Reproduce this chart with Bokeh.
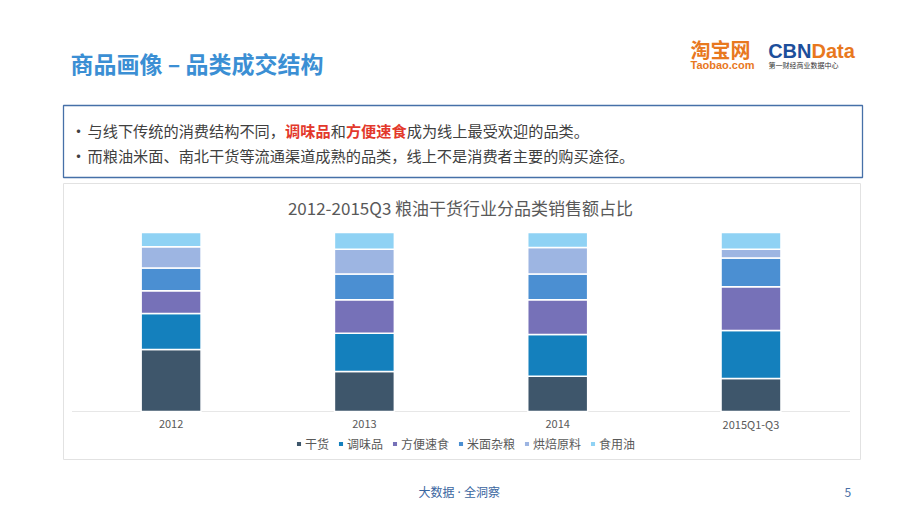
from bokeh.plotting import figure
from bokeh.models import Range1d, ColumnDataSource, Legend, LegendItem
from bokeh.core.properties import value
from bokeh.embed import file_html
from bokeh.resources import INLINE

# ---------------- data ----------------
categories = ["2012", "2013", "2014", "2015Q1-Q3"]
series = ["干货", "调味品", "方便速食", "米面杂粮", "烘焙原料", "食用油"]
dry_goods = [34.6, 22.3, 19.7, 18.4]
seasoning = [20.2, 21.4, 23.3, 26.8]
instant_food = [12.7, 18.8, 19.5, 24.5]
rice_flour = [12.7, 14.3, 14.3, 16.0]
baking = [11.9, 13.9, 14.8, 5.0]
cooking_oil = [7.9, 9.3, 8.4, 9.3]
colors = ["#3e566b", "#1480bd", "#7671b8", "#4b8fd2", "#9db5e2", "#8fd2f4"]

page_title = "商品画像 – 品类成交结构"
chart_title = "2012-2015Q3 粮油干货行业分品类销售额占比"
bullet1 = [("与线下传统的消费结构不同，", False), ("调味品", True), ("和", False),
           ("方便速食", True), ("成为线上最受欢迎的品类。", False)]
bullet2 = "而粮油米面、南北干货等流通渠道成熟的品类，线上不是消费者主要的购买途径。"
footer = "大数据 · 全洞察"
page_no = "5"

FONT = "Noto Sans CJK SC"
MIXED_FONT = "'Noto Sans', 'Noto Sans CJK SC'"

# ---------------- layout (page pixel coordinates) ----------------
W, H = 904, 502
X0, Y0 = 0, 0
BASE_Y, TOP_Y = 411, 232
FIRST_X, BAR_SPACING = 170.6, 193.3
ppu = (BASE_Y - TOP_Y) / 100.0
pct_start = -((Y0 + H) - BASE_Y) / ppu
pct_end = 100 + (TOP_Y - Y0) / ppu
idx_start = (X0 - FIRST_X) / BAR_SPACING
idx_end = idx_start + W / BAR_SPACING

p = figure(width=W, height=H, output_backend="svg", toolbar_location=None,
           x_range=Range1d(X0, X0 + W), y_range=Range1d(Y0 + H, Y0),
           x_axis_location=None, y_axis_location=None, min_border=0,
           outline_line_color=None, background_fill_color="white")
p.xgrid.visible = False
p.ygrid.visible = False
p.extra_x_ranges = {"idx": Range1d(idx_start, idx_end)}
p.extra_y_ranges = {"pct": Range1d(pct_start, pct_end)}

# header title
p.text(x=[70], y=[62], text=[page_title], text_font=value(FONT), text_font_size="23px",
       text_font_style="bold", text_color="#3b8fd4", text_baseline="middle")

# logos
p.text(x=[690], y=[49], text=["淘宝网"], text_font=value(FONT), text_font_size="20px",
       text_font_style="bold", text_color="#e8781e", text_baseline="middle")
p.text(x=[690], y=[64.5], text=["Taobao.com"], text_font=value("Liberation Sans"),
       text_font_size="11px", text_font_style="bold", text_color="#e8781e", text_baseline="middle")
p.text(x=[811], y=[50], text=["CBN"], text_font=value("Liberation Sans"), text_font_size="20px",
       text_font_style="bold", text_color="#1d4f9b", text_baseline="middle", text_align="right")
p.text(x=[811], y=[50], text=["Data"], text_font=value("Liberation Sans"), text_font_size="20px",
       text_font_style="bold", text_color="#e8781e", text_baseline="middle", text_align="left")
p.text(x=[768], y=[64], text=["第一财经商业数据中心"], text_font=value(FONT), text_font_size="7px",
       text_color="#333333", text_baseline="middle")

# bullet box
p.quad(left=[63], right=[862], top=[105], bottom=[177], fill_color=None,
       line_color="#4670a8", line_width=1.3)
BFS = 15.2
p.text(x=[70, 70], y=[129.5, 154.5], text=["•", "•"], text_font=value(FONT),
       text_font_size="16px", text_color="#404040", text_baseline="middle")
xs, ys, ts, cs, st = [], [], [], [], []
cx = 87
for seg, hi in bullet1:
    xs.append(cx); ys.append(129.5); ts.append(seg)
    cs.append("#e3382b" if hi else "#404040"); st.append("bold" if hi else "normal")
    cx += len(seg) * BFS
src_b = ColumnDataSource(dict(x=xs, y=ys, t=ts, c=cs, s=st))
p.text(x="x", y="y", text="t", text_color="c", text_font_style="s", source=src_b,
       text_font=value(FONT), text_font_size=f"{BFS}px", text_baseline="middle")
p.text(x=[87], y=[154.5], text=[bullet2], text_font=value(FONT), text_font_size=f"{BFS}px",
       text_color="#404040", text_baseline="middle")

# chart box
p.quad(left=[63], right=[860], top=[183], bottom=[459], fill_color=None,
       line_color="#e2e2e2", line_width=1)
p.text(x=[460], y=[207], text=[chart_title], text_font=value(FONT), text_font_size="17px",
       text_color="#595959", text_baseline="middle", text_align="center")

# baseline
p.segment(x0=[72], x1=[850], y0=[BASE_Y], y1=[BASE_Y], line_color="#cfcfcf",
          line_width=1, line_dash="1 1")

# stacked bars
idx = list(range(len(categories)))
source = ColumnDataSource(dict(idx=idx, cat=categories, s0=dry_goods, s1=seasoning,
                               s2=instant_food, s3=rice_flour, s4=baking, s5=cooking_oil))
renderers = p.vbar_stack(["s0", "s1", "s2", "s3", "s4", "s5"], x="idx", width=0.31,
                         color=colors, line_color="white", line_width=1.5, source=source,
                         x_range_name="idx", y_range_name="pct")

# category labels
p.text(x="idx", y=423, text="cat", x_range_name="idx", source=source,
       text_font=value(FONT), text_font_size="11px", text_color="#595959",
       text_baseline="middle", text_align="center")

legend = Legend(items=[LegendItem(label=s, renderers=[r]) for s, r in zip(series, renderers)],
                orientation="horizontal", location=(295 - X0, (Y0 + H) - 445 - 7),
                border_line_color=None, background_fill_alpha=0, padding=0, margin=0,
                spacing=8, label_standoff=3, glyph_width=7, glyph_height=7,
                label_height=14, label_width=0, label_text_font_size="12px",
                label_text_color="#595959", label_text_font=FONT)
p.add_layout(legend)

# footer
p.text(x=[418], y=[492], text=[footer], text_font=value(MIXED_FONT), text_font_size="12px",
       text_color="#3a66a0", text_baseline="middle")
p.text(x=[844], y=[492], text=[page_no], text_font=value(FONT), text_font_size="12px",
       text_color="#4a6fa5", text_baseline="middle")

open("out.html", "w").write(file_html(p, INLINE))
